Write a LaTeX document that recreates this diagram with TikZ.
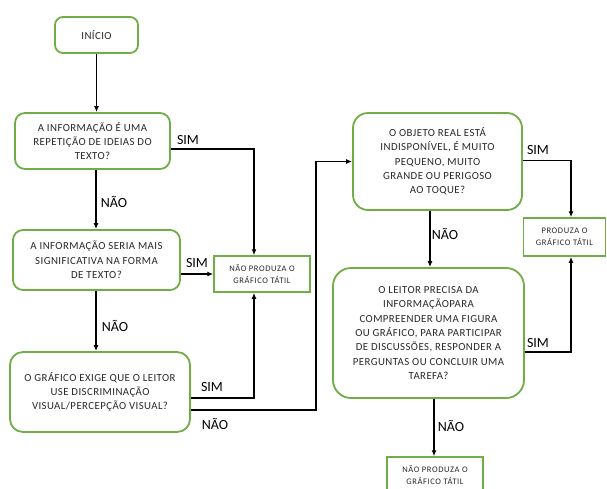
\documentclass[tikz,border=0pt]{standalone}
\usepackage{fontspec}
\setmainfont{Carlito}
\usetikzlibrary{arrows.meta,calc}
\definecolor{boxgreen}{RGB}{112,173,71}
\definecolor{txtgray}{RGB}{40,40,40}
\tikzset{
  decision/.style={draw=boxgreen, line width=1.8pt, rounded corners=10pt, align=center,
    text=txtgray, font=\fontsize{10.8}{14.3}\selectfont\addfontfeature{LetterSpace=4}, inner sep=0pt},
  outcome/.style={draw=boxgreen, line width=1.5pt, align=center, text=txtgray,
    font=\fontsize{8.5}{12}\selectfont\addfontfeature{LetterSpace=7}, inner sep=0pt},
  flow/.style={line width=1.4pt, -{Latex[length=6pt,width=5pt]}},
  answer/.style={font=\fontsize{14}{14}\selectfont, inner sep=0pt}
}
\begin{document}
\begin{tikzpicture}[x=1pt,y=-1pt]
\fill[white] (0,0) rectangle (607,488);
\useasboundingbox (0,0) rectangle (607,488);

% question boxes
\node[decision, minimum width=83pt, minimum height=36pt, rounded corners=8pt] (start) at (96.5,35) {INÍCIO};
\node[decision, minimum width=155pt, minimum height=56pt] (q1) at (92.5,141)
  {A INFORMAÇÃO É UMA\\REPETIÇÃO DE IDEIAS DO\\TEXTO?};
\node[decision, minimum width=167pt, minimum height=60pt] (q2) at (96.5,260)
  {A INFORMAÇÃO SERIA MAIS\\SIGNIFICATIVA NA FORMA\\DE TEXTO?};
\node[decision, minimum width=180pt, minimum height=80pt, rounded corners=13pt] (q3) at (100,392)
  {O GRÁFICO EXIGE QUE O LEITOR\\USE DISCRIMINAÇÃO\\VISUAL/PERCEPÇÃO VISUAL?};
\node[decision, minimum width=169pt, minimum height=97pt, rounded corners=15pt] (q4) at (437.5,161.5)
  {O OBJETO REAL ESTÁ\\INDISPONÍVEL, É MUITO\\PEQUENO, MUITO\\GRANDE OU PERIGOSO\\AO TOQUE?};
\node[decision, minimum width=191pt, minimum height=130pt, rounded corners=18pt] (q5) at (428.5,333)
  {O LEITOR PRECISA DA\\INFORMAÇÃOPARA\\COMPREENDER UMA FIGURA\\OU GRÁFICO, PARA PARTICIPAR\\DE DISCUSSÕES, RESPONDER A\\PERGUNTAS OU CONCLUIR UMA\\TAREFA?};

% outcome boxes
\node[outcome, minimum width=96pt, minimum height=36pt] (nao1) at (262,274) {NÃO PRODUZA O\\GRÁFICO TÁTIL};
\node[outcome, minimum width=82pt, minimum height=38pt] (produza) at (564.5,237) {PRODUZA O\\GRÁFICO TÁTIL};
\node[outcome, minimum width=96pt, minimum height=36pt] (nao2) at (435,475) {NÃO PRODUZA O\\GRÁFICO TÁTIL};

% vertical lanes of the connectors
\coordinate (lane1) at (96,0);
\coordinate (lane2) at (254,0);
\coordinate (lane3) at (316,0);
\coordinate (lane4) at (430,0);
\coordinate (lane5) at (434,0);
\coordinate (lane6) at (571,0);

% connectors
\draw[flow] (start.south) -- (start.south |- q1.north);
\draw[flow] ($(q1.east)+(0,8)$) -| (lane2 |- nao1.north);
\draw[flow] (lane1 |- q1.south) -- (lane1 |- q2.north);
\draw[flow] (q2.east |- nao1.west) -- (nao1.west);
\draw[flow] (lane1 |- q2.south) -- (lane1 |- q3.north);
\draw[flow] ($(q3.east)+(0,6)$) -| (lane2 |- nao1.south);
\draw[flow] ($(q3.east)+(0,18)$) -| (lane3 |- q4.west) -- (q4.west);
\draw[flow] ($(q4.east)+(0,-1)$) -| (lane6 |- produza.north);
\draw[flow] (lane4 |- q4.south) -- (lane4 |- q5.north);
\draw[flow] ($(q5.east)+(0,19)$) -| (lane6 |- produza.south);
\draw[flow] (lane5 |- q5.south) -- (lane5 |- nao2.north);

% answer labels
\node[answer] (s1) at (188,140) {SIM};
\node[answer] (n1) at (114,202) {NÃO};
\node[answer] (s2) at (197,263) {SIM};
\node[answer] (n2) at (115,326) {NÃO};
\node[answer] (s3) at (212,387) {SIM};
\node[answer] (n3) at (215,424) {NÃO};
\node[answer] (s4) at (538,150) {SIM};
\node[answer] (n4) at (445,234) {NÃO};
\node[answer] (s5) at (538,343) {SIM};
\node[answer] (n5) at (451,426) {NÃO};
\end{tikzpicture}
\end{document}
